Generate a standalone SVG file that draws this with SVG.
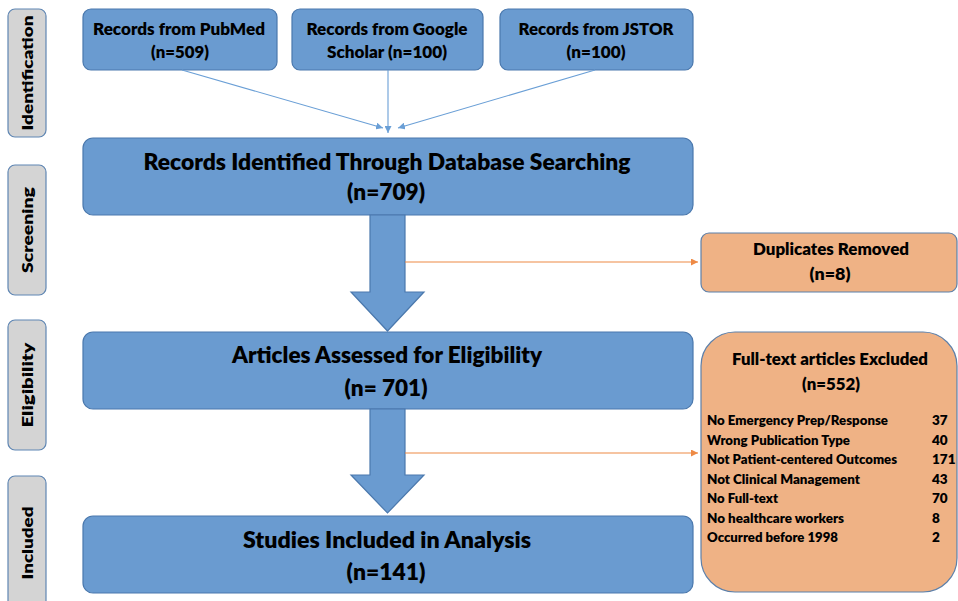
<svg xmlns="http://www.w3.org/2000/svg" width="958" height="601" viewBox="0 0 958 601">
<style>
.side{fill:#d4d4d4;stroke:#5f86b3;stroke-width:1.2}
.blue{fill:#6a9bd0;stroke:#4a78ad;stroke-width:1.2}
.orange{fill:#efb285;stroke:#5d80aa;stroke-width:1.2}
.t{font-family:Lato,"Liberation Sans",sans-serif;font-weight:800;fill:#000;text-anchor:middle}
.l{font-family:Lato,"Liberation Sans",sans-serif;font-weight:800;fill:#000;font-size:13.5px}
.thin{stroke:#6a9fd6;stroke-width:1.1;fill:none}
.or{stroke:#ee8a45;stroke-width:1.1;fill:none}
</style>
<defs>
<marker id="ab" viewBox="0 0 10 10" refX="10" refY="5" markerWidth="7" markerHeight="7" markerUnits="userSpaceOnUse" orient="auto"><path d="M0,0 L10,5 L0,10 z" fill="#6a9fd6"/></marker>
<marker id="ao" viewBox="0 0 10 10" refX="10" refY="5" markerWidth="7" markerHeight="7" markerUnits="userSpaceOnUse" orient="auto"><path d="M0,0 L10,5 L0,10 z" fill="#ee8a45"/></marker>
</defs>

<g id="side-identification"><rect class="side" x="8" y="9" width="38" height="128" rx="7"/><text class="t" font-size="15" transform="translate(33,73) rotate(-90)" textLength="115" lengthAdjust="spacingAndGlyphs">Identification</text></g>
<g id="side-screening"><rect class="side" x="8" y="165" width="38" height="130" rx="7"/><text class="t" font-size="15" transform="translate(33,230) rotate(-90)" textLength="86" lengthAdjust="spacingAndGlyphs">Screening</text></g>
<g id="side-eligibility"><rect class="side" x="8" y="320" width="38" height="130" rx="7"/><text class="t" font-size="15" transform="translate(33,385) rotate(-90)" textLength="85" lengthAdjust="spacingAndGlyphs">Eligibility</text></g>
<g id="side-included"><rect class="side" x="8" y="476" width="38" height="140" rx="7"/><text class="t" font-size="15" transform="translate(33,543) rotate(-90)" textLength="73" lengthAdjust="spacingAndGlyphs">Included</text></g>

<g id="pubmed"><rect class="blue" x="83" y="9" width="194" height="61" rx="8"/><text class="t" font-size="16" x="179" y="35" textLength="172" lengthAdjust="spacingAndGlyphs">Records from PubMed</text><text class="t" font-size="16" x="180" y="58" textLength="58" lengthAdjust="spacingAndGlyphs">(n=509)</text></g>
<g id="google"><rect class="blue" x="292" y="9" width="191" height="61" rx="8"/><text class="t" font-size="16" x="387" y="35" textLength="161" lengthAdjust="spacingAndGlyphs">Records from Google</text><text class="t" font-size="16" x="387" y="58" textLength="120" lengthAdjust="spacingAndGlyphs">Scholar (n=100)</text></g>
<g id="jstor"><rect class="blue" x="500" y="9" width="193" height="61" rx="8"/><text class="t" font-size="16" x="596" y="35" textLength="155" lengthAdjust="spacingAndGlyphs">Records from JSTOR</text><text class="t" font-size="16" x="596" y="58" textLength="59" lengthAdjust="spacingAndGlyphs">(n=100)</text></g>

<g id="identified"><rect class="blue" x="83" y="138" width="610" height="77" rx="10"/><text class="t" font-size="22" x="387" y="170" textLength="487" lengthAdjust="spacingAndGlyphs">Records Identified Through Database Searching</text><text class="t" font-size="22" x="386" y="200" textLength="78" lengthAdjust="spacingAndGlyphs">(n=709)</text></g>

<g id="duplicates"><rect class="orange" x="701" y="233" width="256" height="59" rx="8"/><text class="t" font-size="16" x="831" y="255" textLength="156" lengthAdjust="spacingAndGlyphs">Duplicates Removed</text><text class="t" font-size="16" x="830" y="280" textLength="41" lengthAdjust="spacingAndGlyphs">(n=8)</text></g>

<g id="assessed"><rect class="blue" x="83" y="332" width="610" height="77" rx="10"/><text class="t" font-size="22" x="387" y="363" textLength="310" lengthAdjust="spacingAndGlyphs">Articles Assessed for Eligibility</text><text class="t" font-size="22" x="386" y="396" textLength="83" lengthAdjust="spacingAndGlyphs">(n= 701)</text></g>

<g id="excluded"><rect class="orange" x="701" y="332" width="256" height="260" rx="34"/><text class="t" font-size="17" x="830" y="365" textLength="196" lengthAdjust="spacingAndGlyphs">Full-text articles Excluded</text><text class="t" font-size="17" x="831" y="390" textLength="58" lengthAdjust="spacingAndGlyphs">(n=552)</text>
<text class="l" x="707" y="425" textLength="181" lengthAdjust="spacingAndGlyphs">No Emergency Prep/Response</text><text class="l" x="932" y="425">37</text>
<text class="l" x="707" y="444.5" textLength="143" lengthAdjust="spacingAndGlyphs">Wrong Publication Type</text><text class="l" x="932" y="444.5">40</text>
<text class="l" x="707" y="464" textLength="190" lengthAdjust="spacingAndGlyphs">Not Patient-centered Outcomes</text><text class="l" x="932" y="464">171</text>
<text class="l" x="707" y="483.5" textLength="153" lengthAdjust="spacingAndGlyphs">Not Clinical Management</text><text class="l" x="932" y="483.5">43</text>
<text class="l" x="707" y="503" textLength="71" lengthAdjust="spacingAndGlyphs">No Full-text</text><text class="l" x="932" y="503">70</text>
<text class="l" x="707" y="522.5" textLength="137" lengthAdjust="spacingAndGlyphs">No healthcare workers</text><text class="l" x="932" y="522.5">8</text>
<text class="l" x="707" y="542" textLength="131" lengthAdjust="spacingAndGlyphs">Occurred before 1998</text><text class="l" x="932" y="542">2</text></g>

<g id="included"><rect class="blue" x="83" y="516" width="610" height="77" rx="10"/><text class="t" font-size="22" x="387" y="548" textLength="288" lengthAdjust="spacingAndGlyphs">Studies Included in Analysis</text><text class="t" font-size="22" x="386" y="580" textLength="79" lengthAdjust="spacingAndGlyphs">(n=141)</text></g>

<g id="connectors">
<line class="thin" x1="182" y1="70" x2="383" y2="128" marker-end="url(#ab)"/>
<line class="thin" x1="388" y1="70" x2="388" y2="133" marker-end="url(#ab)"/>
<line class="thin" x1="595" y1="70" x2="398" y2="128" marker-end="url(#ab)"/>
<polygon class="blue" points="370,215 405,215 405,292 424,292 387.5,331 351,292 370,292"/>
<polygon class="blue" points="370,409 405,409 405,475 424,475 387.5,513 351,475 370,475"/>
<line class="or" x1="405" y1="262" x2="698" y2="262" marker-end="url(#ao)"/>
<line class="or" x1="405" y1="453" x2="698" y2="453" marker-end="url(#ao)"/>
</g>
</svg>
